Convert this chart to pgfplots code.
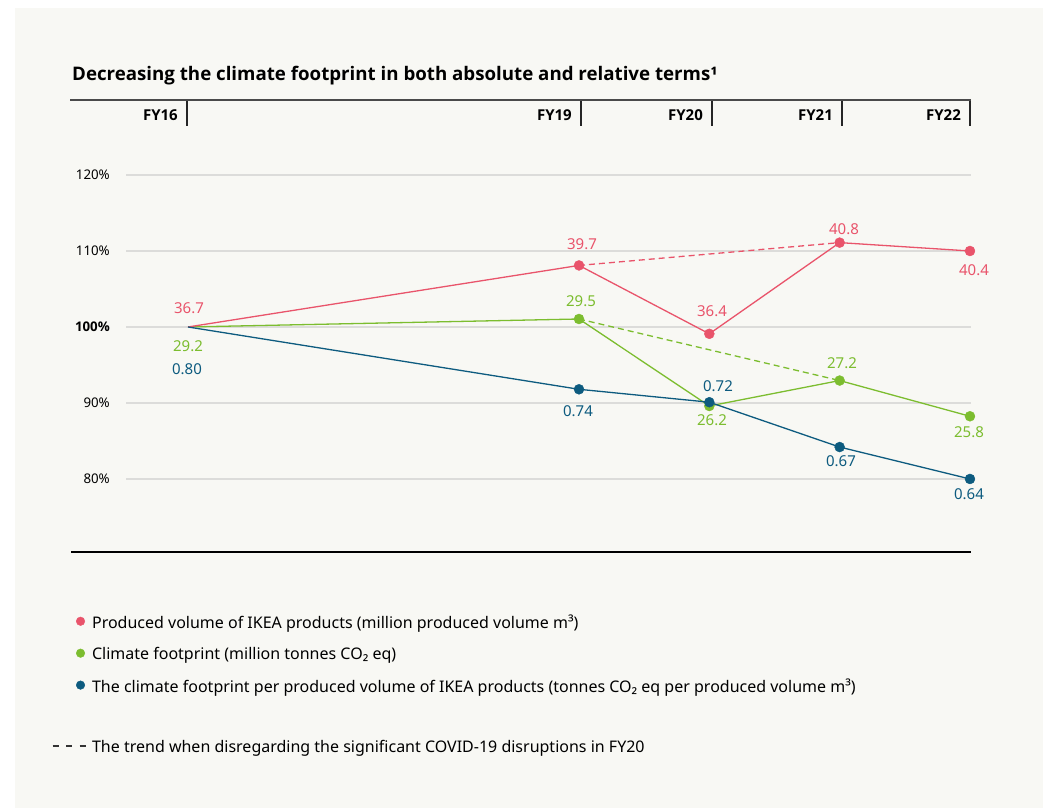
\documentclass[border=0pt]{standalone}
\usepackage{pgfplots}
\pgfplotsset{compat=1.18}
\usepackage{fontspec}
\setmainfont{Noto Sans}
\newfontfamily\hfont{Open Sans}
\definecolor{bgc}{HTML}{F8F8F4}
\definecolor{cred}{HTML}{E9546B}
\definecolor{cgreen}{HTML}{7CBD2F}
\definecolor{cblue}{HTML}{0D5B7F}
\definecolor{gridc}{HTML}{DCDCDA}
\definecolor{hdr}{HTML}{4A4A4A}
\begin{document}
\begin{tikzpicture}
\begin{scope}[x=1bp,y=1bp]
\useasboundingbox (0,0) rectangle (1049,808);
\fill[white] (0,0) rectangle (1049,808);
\fill[bgc] (15,0) rectangle (1043,800);
% title
\node[anchor=base west, inner sep=0pt, font=\fontsize{18.7bp}{21bp}\selectfont\hfont\bfseries] at (72,727.5) {Decreasing the climate footprint in both absolute and relative terms¹};
% header
\draw[hdr, line width=2.5bp] (70,708) -- (971,708);
\foreach \x/\l in {187/FY16,581/FY19,712/FY20,842/FY21,970/FY22}{
  \draw[black!85, line width=1.2bp] (\x,707) -- (\x,682);
  \node[anchor=base east, inner sep=0pt, font=\fontsize{15bp}{18bp}\selectfont\hfont\bfseries] at (\x-9,687) {\l};
}
% bottom rule
\draw[black, line width=1.6bp] (71,256) -- (971,256);
\end{scope}
\begin{axis}[at={(126bp,256bp)}, anchor=south west, scale only axis,
  width=845bp, height=377bp,
  xmin=15.524, xmax=22.008, ymin=70.39, ymax=120,
  clip=false, axis line style={draw=none},
  xtick=\empty, ytick={80,90,100,110,120},
  yticklabels={\mbox{80\%},\mbox{90\%},\mbox{\hfont\bfseries 100\%},\mbox{110\%},\mbox{120\%}},
  ymajorgrids, grid style={gridc, line width=1.2bp},
  major tick length=0pt,
  yticklabel style={font=\fontsize{13.3bp}{15bp}\selectfont, anchor=east, inner sep=0pt, xshift=-16bp},
  legend cell align=left,
  legend style={at={(-0.0876,-0.1618)}, anchor=north west, draw=none, fill=none,
    inner sep=0pt, outer sep=0pt, row sep=13.5bp,
    font=\fontsize{16bp}{19bp}\selectfont,
    /tikz/every odd column/.append style={column sep=4bp}},
]
% green
\addplot[forget plot, cgreen, line width=1.3bp] coordinates {(16,100)(19,101.05)(20,89.6)(21,92.95)(22,88.25)};
\addplot[forget plot, cgreen, line width=1.3bp, dash pattern=on 6bp off 4bp] coordinates {(19,101.05)(21,92.95)};
\addplot[forget plot, only marks, mark=*, mark size=5bp, cgreen] coordinates {(19,101.05)(20,89.6)(21,92.95)(22,88.25)};
% red
\addplot[forget plot, cred, line width=1.3bp] coordinates {(16,100)(19,108.1)(20,99.1)(21,111.1)(22,110.0)};
\addplot[forget plot, cred, line width=1.3bp, dash pattern=on 6bp off 4bp] coordinates {(19,108.1)(21,111.1)};
\addplot[forget plot, only marks, mark=*, mark size=5bp, cred] coordinates {(19,108.1)(20,99.1)(21,111.1)(22,110.0)};
% blue
\addplot[forget plot, cblue, line width=1.3bp] coordinates {(16,100)(19,91.8)(20,90.1)(21,84.2)(22,80.0)};
\addplot[forget plot, only marks, mark=*, mark size=5bp, cblue] coordinates {(19,91.8)(20,90.1)(21,84.2)(22,80.0)};
% legend
\addlegendimage{legend image code/.code={\fill[cred] (0,1.3bp) circle (4.3bp);}}
\addlegendentry{Produced volume of IKEA products (million produced volume m³)}
\addlegendimage{legend image code/.code={\fill[cgreen] (0,1.3bp) circle (4.3bp);}}
\addlegendentry{Climate footprint (million tonnes CO₂ eq)}
\addlegendimage{legend image code/.code={\fill[cblue] (0,1.3bp) circle (4.3bp);}}
\addlegendentry{The climate footprint per produced volume of IKEA products (tonnes CO₂ eq per produced volume m³)}
\addlegendimage{legend image code/.code={}}
\addlegendentry{\rule{0pt}{10bp}}
\addlegendimage{legend image code/.code={\draw[black!80, line width=1.1bp, dash pattern=on 6bp off 7.5bp] (-28bp,1.3bp) -- (5bp,1.3bp);}}
\addlegendentry{The trend when disregarding the significant COVID-19 disruptions in FY20}
\end{axis}
% data labels
\begin{scope}[x=1bp,y=1bp,every node/.style={inner sep=0pt, font=\fontsize{15bp}{18bp}\selectfont}]
\node[text=cred] at (189,500) {36.7};
\node[text=cred] at (582,564) {39.7};
\node[text=cred] at (712,497) {36.4};
\node[text=cred] at (844,579) {40.8};
\node[text=cred] at (974,538) {40.4};
\node[text=cgreen] at (188,462) {29.2};
\node[text=cgreen] at (581,507) {29.5};
\node[text=cgreen] at (712,388) {26.2};
\node[text=cgreen] at (842,445) {27.2};
\node[text=cgreen] at (969,376) {25.8};
\node[text=cblue] at (187,439) {0.80};
\node[text=cblue] at (578,397) {0.74};
\node[text=cblue] at (718,422) {0.72};
\node[text=cblue] at (841,347) {0.67};
\node[text=cblue] at (969,314) {0.64};
\end{scope}
\end{tikzpicture}
\end{document}
